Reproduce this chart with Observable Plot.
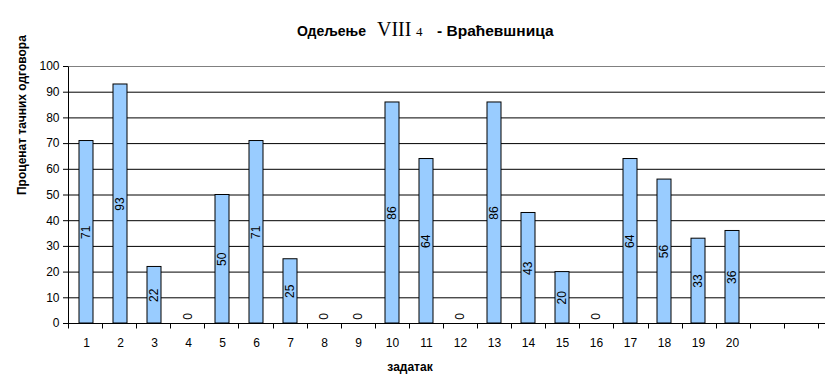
<!DOCTYPE html>
<html><head><meta charset="utf-8">
<script src="https://cdn.jsdelivr.net/npm/d3@7"></script>
<script src="https://cdn.jsdelivr.net/npm/@observablehq/plot@0.6"></script>
<style>body{margin:0;background:#fff;}</style>
</head><body><div id="chart"></div>
<script>
const tasks = ["1","2","3","4","5","6","7","8","9","10","11","12","13","14","15","16","17","18","19","20"];
const values = [71,93,22,0,50,71,25,0,0,86,64,0,86,43,20,0,64,56,33,36];
const emptySlots = ["e21","e22"];
const slots = [...tasks, ...emptySlots];
const yTicks = [0,10,20,30,40,50,60,70,80,90,100];
const titleParts = ["Одељење", "VIII", "4", "- Враћевшница"];
const yLabel = "Проценат тачних одговора";
const xLabel = "задатак";

const data = tasks.map((t, i) => ({task: t, value: values[i]}));
const nonZero = data.filter(d => d.value > 0);
const zeros = data.filter(d => d.value === 0);

function axisDecor(index, scales) {
  const x = scales.x, y = scales.y;
  const [r0, r1] = x.range();
  const step = (r1 - r0) / slots.length;
  const y0 = Math.round(y(0)) + 0.5;
  const g = d3.create("svg:g").attr("stroke", "black").attr("stroke-width", 1);
  const lx = Math.round(r0) + 0.5;
  g.append("line").attr("x1", lx).attr("x2", lx).attr("y1", Math.round(y(100)) + 0.5).attr("y2", y0 + 5);
  for (let k = 1; k <= slots.length; k++) {
    const xx = Math.round(r0 + k * step) + 0.5;
    g.append("line").attr("x1", xx).attr("x2", xx).attr("y1", y0).attr("y2", y0 + 5);
  }
  return g.node();
}

const chart = Plot.plot({
  width: 825,
  height: 388,
  marginLeft: 68,
  marginRight: 0,
  marginTop: 66,
  marginBottom: 65,
  style: {fontFamily: "'Liberation Sans', Arial, sans-serif", fontSize: "12px", color: "black", background: "white"},
  x: {domain: slots, range: [68, 818], paddingInner: 0.6, paddingOuter: 0.3, label: null,
      tickSize: 0, tickPadding: 15, tickFormat: d => tasks.includes(d) ? d : ""},
  y: {domain: [0, 100], ticks: yTicks, tickSize: 5, tickPadding: 4, label: null},
  marks: [
    Plot.ruleY(yTicks.filter(v => v > 0 && v < 100), {stroke: "black"}),
    Plot.ruleY([100], {stroke: "#808080"}),
    Plot.barY(data, {x: "task", y: "value", fill: "#99ccff", stroke: "black", strokeWidth: 1}),
    Plot.ruleY([0], {stroke: "black"}),
    axisDecor,
    Plot.text(nonZero, {x: "task", y: d => d.value / 2, text: d => String(d.value), rotate: -90, fill: "black", fontSize: 12}),
    Plot.text(zeros, {x: "task", y: 0, text: d => String(d.value), rotate: -90, dy: -7, fill: "black", fontSize: 12}),
    Plot.text([yLabel], {frameAnchor: "left", dx: -46, rotate: -90, fontWeight: "bold", fontSize: 12, fill: "black"}),
    Plot.text([xLabel], {frameAnchor: "bottom", dx: -37, dy: 47, fontWeight: "bold", fontSize: 12, fill: "black"})
  ]
});

const svg = d3.select(chart);
const sans = "'Liberation Sans', Arial, sans-serif";
const serif = "'Liberation Serif', 'Times New Roman', serif";
const tg = svg.append("g").attr("fill", "black").attr("text-anchor", "start");
tg.append("text").attr("x", 297).attr("y", 36).attr("font-family", sans).attr("font-weight", "bold")
  .attr("font-size", 14).text(titleParts[0]);
tg.append("text").attr("x", 377).attr("y", 36).attr("font-family", serif)
  .attr("font-size", 20).text(titleParts[1]);
tg.append("text").attr("x", 416).attr("y", 36).attr("font-family", serif)
  .attr("font-size", 13).text(titleParts[2]);
tg.append("text").attr("x", 437).attr("y", 36).attr("font-family", sans).attr("font-weight", "bold")
  .attr("font-size", 15.5).text(titleParts[3]);

document.getElementById("chart").appendChild(chart);
</script>
</body></html>
